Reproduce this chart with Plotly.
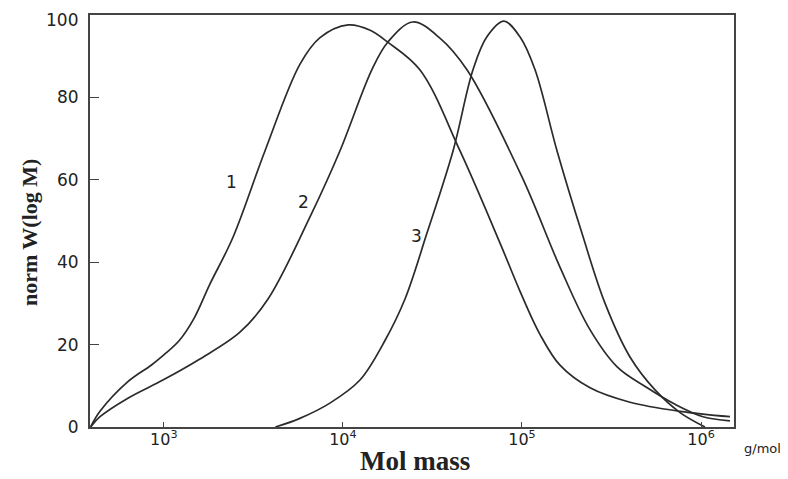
import math
import plotly.graph_objects as go

# ---- data ----
mass_1 = [390, 440, 630, 850, 1000, 1220, 1480, 1800, 2430, 3670, 5750, 7450, 10700,
          14200, 17800, 26900, 45100, 75300, 97400, 126000, 163000, 240000,
          401000, 764000, 1450000]
w_1 = [0, 3.8, 11, 15, 17.5, 21, 26.5, 34.5, 46, 67, 88, 94.5, 97.6,
       96.3, 93.4, 86.7, 67, 44.7, 33, 22.5, 15, 9.5,
       6, 3.8, 2.5]

mass_2 = [390, 440, 630, 1000, 1590, 2660, 3810, 6550, 9620, 14500, 17800, 24600,
          34800, 49300, 100000, 163000, 237000, 340000, 493000, 716000, 1025000, 1450000]
w_2 = [0, 2.5, 7, 11.5, 16.5, 23, 31, 51, 67, 86.7, 93.4, 98.3,
       94.4, 86.7, 60.7, 38.8, 24, 14.6, 9.7, 5.5, 2.5, 1.5]

mass_3 = [4200, 5750, 8460, 12450, 17180, 22190, 29450, 41200, 53250, 63700, 79300,
          97400, 118300, 157000, 216300, 291000, 401000, 553400, 763700, 1052000]
w_3 = [0, 2.1, 5.8, 11.4, 21, 31, 47, 67, 86.7, 94.7, 98.5,
       94.7, 86.7, 67, 47, 30, 17, 9, 3.5, 0]

x_tickvals = [1e3, 1e4, 1e5, 1e6]
x_ticktext = ["10<sup>3</sup>", "10<sup>4</sup>", "10<sup>5</sup>", "10<sup>6</sup>"]
y_tickvals = [0, 20, 40, 60, 80, 100]
y_ticktext = ["0", "20", "40", "60", "80", ""]
y_top_label = "100"

curve_labels = ["1", "2", "3"]
label_mass = [2400, 5990, 25900]
label_w = [59.5, 54.6, 46.4]

line_col = "#2b2b2b"
tick_font = dict(family="DejaVu Sans", size=17, color="#222")
fig = go.Figure()
for m, w in [(mass_1, w_1), (mass_2, w_2), (mass_3, w_3)]:
    fig.add_trace(go.Scatter(x=m, y=w, mode="lines",
                             line=dict(color=line_col, width=1.7, shape="spline", smoothing=1.0),
                             showlegend=False, hoverinfo="skip"))

for t, xm, yw in zip(curve_labels, label_mass, label_w):
    fig.add_annotation(x=math.log10(xm), y=yw, xref="x", yref="y", text=t, showarrow=False,
                       xanchor="center", yanchor="middle",
                       font=dict(family="DejaVu Sans", size=17, color="#222"))

# top y tick label (kept inside the page)
fig.add_annotation(x=-0.0155, y=98.8, xref="paper", yref="y", text=y_top_label,
                   showarrow=False, xanchor="right", yanchor="middle", font=tick_font)

fig.add_annotation(x=-0.093, y=0.471, xref="paper", yref="paper", text="norm W(log M)",
                   textangle=-90, showarrow=False, xanchor="center", yanchor="middle",
                   font=dict(family="Liberation Serif", size=22, color="#222", weight="bold"))
fig.add_annotation(x=0.505, y=-0.083, xref="paper", yref="paper", text="Mol mass",
                   showarrow=False, xanchor="center", yanchor="middle",
                   font=dict(family="Liberation Serif", size=27, color="#222", weight="bold"))
fig.add_annotation(x=1.0435, y=-0.051, xref="paper", yref="paper", text="g/mol",
                   showarrow=False, xanchor="center", yanchor="middle",
                   font=dict(family="DejaVu Sans", size=13, color="#222"))

# page body adds an 8px margin, so the figure is 8px smaller and margins shifted
fig.update_layout(
    width=780, height=471,
    margin=dict(l=82, r=54, t=7, b=52),
    paper_bgcolor="white", plot_bgcolor="white",
    xaxis=dict(type="log", range=[math.log10(387), 6.184],
               tickvals=x_tickvals, ticktext=x_ticktext,
               ticks="inside", ticklen=5, tickwidth=1.3, tickcolor="#444",
               showgrid=False, zeroline=False, automargin=False,
               showline=True, linecolor="#444", linewidth=2, mirror=True,
               tickfont=dict(family="DejaVu Sans", size=16, color="#222"),
               ticklabelstandoff=-3),
    yaxis=dict(range=[0, 100], tickvals=y_tickvals, ticktext=y_ticktext,
               ticks="inside", ticklen=9, tickwidth=1.3, tickcolor="#444",
               showgrid=False, zeroline=False, automargin=False,
               showline=True, linecolor="#444", linewidth=2, mirror=True,
               tickfont=tick_font, ticklabelstandoff=6),
)

fig.write_html("out.html")
